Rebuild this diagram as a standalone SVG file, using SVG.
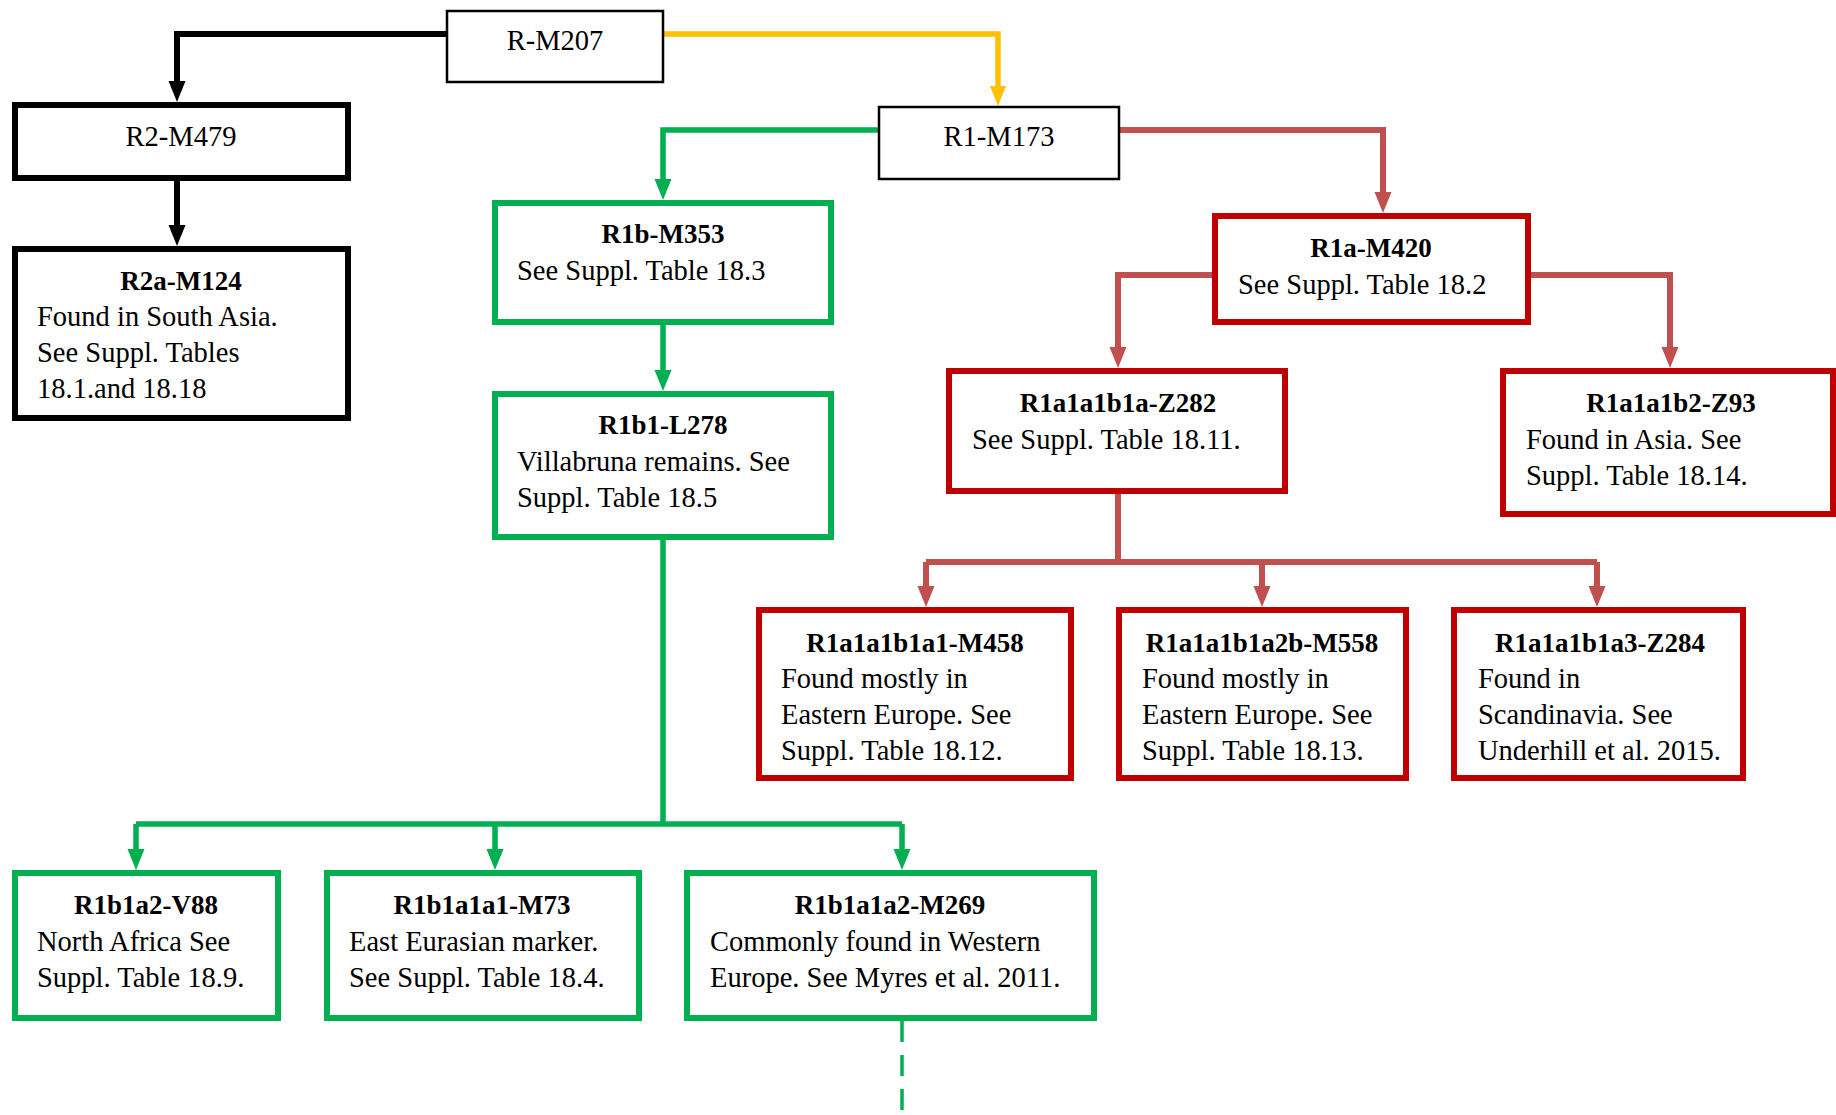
<svg xmlns="http://www.w3.org/2000/svg" width="1836" height="1115" viewBox="0 0 1836 1115">
<style>
text{font-family:"Liberation Serif","Times New Roman",serif;font-size:28.5px;fill:#000}
.t{font-weight:bold;text-anchor:middle;font-size:27px}
.c{text-anchor:middle}
.box{fill:#fff}
.thin{stroke:#000;stroke-width:2.5}
.blk{stroke:#000;stroke-width:6}
.grn{stroke:#00B050;stroke-width:6}
.red{stroke:#C00000;stroke-width:6}
.ln{fill:none;stroke-width:5.5}
</style>
<defs>
<marker id="ab" markerUnits="userSpaceOnUse" markerWidth="22" markerHeight="20" refX="6" refY="8.5" orient="auto"><path d="M0,0 L21,8.5 L0,17 z" fill="#000"/></marker>
<marker id="ay" markerUnits="userSpaceOnUse" markerWidth="22" markerHeight="20" refX="6" refY="8" orient="auto"><path d="M0,0 L20,8 L0,16 z" fill="#FFC000"/></marker>
<marker id="ag" markerUnits="userSpaceOnUse" markerWidth="22" markerHeight="20" refX="6" refY="8.5" orient="auto"><path d="M0,0 L21,8.5 L0,17 z" fill="#00B050"/></marker>
<marker id="ar" markerUnits="userSpaceOnUse" markerWidth="22" markerHeight="20" refX="6" refY="8.5" orient="auto"><path d="M0,0 L21,8.5 L0,17 z" fill="#C0504D"/></marker>
</defs>
<g id="connectors" class="ln">
<path d="M447,34 H177 V87" stroke="#000" stroke-width="6" marker-end="url(#ab)"/>
<path d="M177,181 V231" stroke="#000" stroke-width="6" marker-end="url(#ab)"/>
<path d="M663,34 H998 V92" stroke="#FFC000" stroke-width="5.5" marker-end="url(#ay)"/>
<path d="M879,130 H663 V185" stroke="#00B050" marker-end="url(#ag)"/>
<path d="M663,325 V376" stroke="#00B050" marker-end="url(#ag)"/>
<path d="M1119,130 H1383 V198" stroke="#C0504D" stroke-width="6" marker-end="url(#ar)"/>
<path d="M1215,275 H1118 V353" stroke="#C0504D" stroke-width="6" marker-end="url(#ar)"/>
<path d="M1528,275 H1670 V353" stroke="#C0504D" stroke-width="6" marker-end="url(#ar)"/>
<path d="M1118,494 V562" stroke="#C0504D" stroke-width="6"/>
<path d="M926,562 H1597" stroke="#C0504D" stroke-width="6"/>
<path d="M926,562 V592" stroke="#C0504D" stroke-width="6" marker-end="url(#ar)"/>
<path d="M1262,562 V592" stroke="#C0504D" stroke-width="6" marker-end="url(#ar)"/>
<path d="M1597,562 V592" stroke="#C0504D" stroke-width="6" marker-end="url(#ar)"/>
<path d="M663,540 V824" stroke="#00B050"/>
<path d="M136,824 H902" stroke="#00B050"/>
<path d="M136,824 V855" stroke="#00B050" marker-end="url(#ag)"/>
<path d="M495,824 V855" stroke="#00B050" marker-end="url(#ag)"/>
<path d="M902,824 V855" stroke="#00B050" marker-end="url(#ag)"/>
<path d="M902,1021 V1115" stroke="#00B050" stroke-width="3.5" stroke-dasharray="21,13"/>
</g>
<g id="R-M207"><rect class="box thin" x="447" y="11" width="216" height="71"/><text class="c" x="555" y="50">R-M207</text></g>
<g id="R2-M479"><rect class="box blk" x="15" y="105" width="333" height="73"/><text class="c" x="181" y="146">R2-M479</text></g>
<g id="R2a-M124"><rect class="box blk" x="15" y="249" width="333" height="169"/><text class="t" x="181" y="290">R2a-M124</text><text x="37" y="326">Found in South Asia.</text><text x="37" y="362">See Suppl. Tables</text><text x="37" y="398">18.1.and 18.18</text></g>
<g id="R1-M173"><rect class="box thin" x="879" y="107" width="240" height="72"/><text class="c" x="999" y="146">R1-M173</text></g>
<g id="R1b-M353"><rect class="box grn" x="495" y="203" width="336" height="119"/><text class="t" x="663" y="243">R1b-M353</text><text x="517" y="280">See Suppl. Table 18.3</text></g>
<g id="R1b1-L278"><rect class="box grn" x="495" y="394" width="336" height="143"/><text class="t" x="663" y="434">R1b1-L278</text><text x="517" y="471">Villabruna remains. See</text><text x="517" y="507">Suppl. Table 18.5</text></g>
<g id="R1a-M420"><rect class="box red" x="1215" y="216" width="313" height="106"/><text class="t" x="1371" y="257">R1a-M420</text><text x="1238" y="294">See Suppl. Table 18.2</text></g>
<g id="R1a1a1b1a-Z282"><rect class="box red" x="949" y="371" width="336" height="120"/><text class="t" x="1118" y="412">R1a1a1b1a-Z282</text><text x="972" y="449">See Suppl. Table 18.11.</text></g>
<g id="R1a1a1b2-Z93"><rect class="box red" x="1503" y="371" width="330" height="143"/><text class="t" x="1671" y="412">R1a1a1b2-Z93</text><text x="1526" y="449">Found in Asia. See</text><text x="1526" y="485">Suppl. Table 18.14.</text></g>
<g id="R1a1a1b1a1-M458"><rect class="box red" x="759" y="610" width="312" height="168"/><text class="t" x="915" y="652">R1a1a1b1a1-M458</text><text x="781" y="688">Found mostly in</text><text x="781" y="724">Eastern Europe. See</text><text x="781" y="760">Suppl. Table 18.12.</text></g>
<g id="R1a1a1b1a2b-M558"><rect class="box red" x="1119" y="610" width="287" height="168"/><text class="t" x="1262" y="652">R1a1a1b1a2b-M558</text><text x="1142" y="688">Found mostly in</text><text x="1142" y="724">Eastern Europe. See</text><text x="1142" y="760">Suppl. Table 18.13.</text></g>
<g id="R1a1a1b1a3-Z284"><rect class="box red" x="1454" y="610" width="289" height="168"/><text class="t" x="1600" y="652">R1a1a1b1a3-Z284</text><text x="1478" y="688">Found in</text><text x="1478" y="724">Scandinavia. See</text><text x="1478" y="760">Underhill et al. 2015.</text></g>
<g id="R1b1a2-V88"><rect class="box grn" x="15" y="873" width="263" height="145"/><text class="t" x="146" y="914">R1b1a2-V88</text><text x="37" y="951">North Africa See</text><text x="37" y="987">Suppl. Table 18.9.</text></g>
<g id="R1b1a1a1-M73"><rect class="box grn" x="327" y="873" width="312" height="145"/><text class="t" x="482" y="914">R1b1a1a1-M73</text><text x="349" y="951">East Eurasian marker.</text><text x="349" y="987">See Suppl. Table 18.4.</text></g>
<g id="R1b1a1a2-M269"><rect class="box grn" x="687" y="873" width="407" height="145"/><text class="t" x="890" y="914">R1b1a1a2-M269</text><text x="710" y="951">Commonly found in Western</text><text x="710" y="987">Europe. See Myres et al. 2011.</text></g>
</svg>
